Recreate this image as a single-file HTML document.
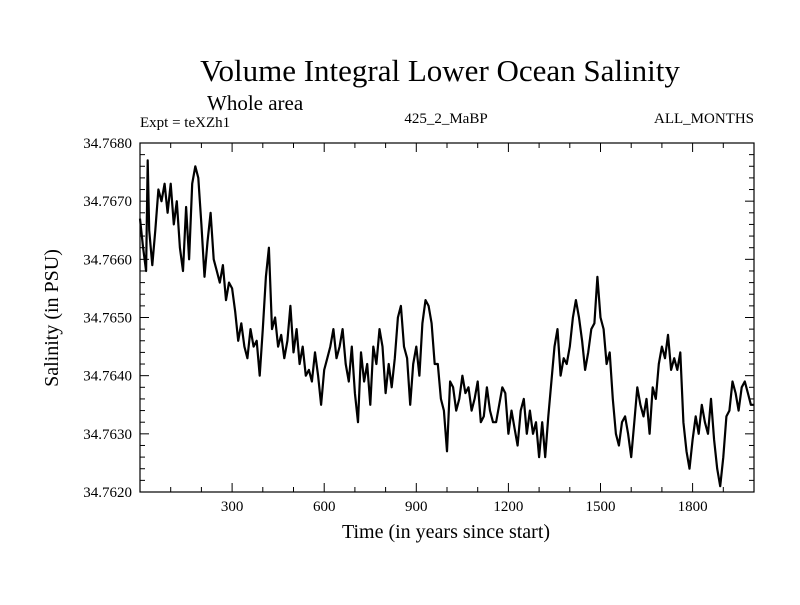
<!DOCTYPE html>
<html><head><meta charset="utf-8"><style>
body{margin:0;background:#fff}
svg text{font-family:"Liberation Serif",serif;fill:#000}
</style></head><body>
<svg id="c" width="800" height="600">
<text x="440" y="81" font-size="31" text-anchor="middle">Volume Integral Lower Ocean Salinity</text>
<text x="207" y="110" font-size="21">Whole area</text>
<text x="140" y="127" font-size="15">Expt = teXZh1</text>
<text x="446" y="123" font-size="15" text-anchor="middle">425_2_MaBP</text>
<text x="754" y="123" font-size="15" text-anchor="end">ALL_MONTHS</text>
<text x="446" y="538" font-size="20" text-anchor="middle">Time (in years since start)</text>
<text transform="translate(58,318) rotate(-90)" font-size="20" text-anchor="middle">Salinity (in PSU)</text>
<g id="ax"></g>
<rect x="140" y="143" width="614" height="349" fill="none" stroke="#000" stroke-width="1.2"/>
</svg>
<script>
const years=[0,10,20,25,30,40,50,60,70,80,90,100,110,120,130,140,150,160,170,180,190,200,210,220,230,240,250,260,270,280,290,300,310,320,330,340,350,360,370,380,390,400,410,420,430,440,450,460,470,480,490,500,510,520,530,540,550,560,570,580,590,600,610,620,630,640,650,660,670,680,690,700,710,720,730,740,750,760,770,780,790,800,810,820,830,840,850,860,870,880,890,900,910,920,930,940,950,960,970,980,990,1000,1010,1020,1030,1040,1050,1060,1070,1080,1090,1100,1110,1120,1130,1140,1150,1160,1170,1180,1190,1200,1210,1220,1230,1240,1250,1260,1270,1280,1290,1300,1310,1320,1330,1340,1350,1360,1370,1380,1390,1400,1410,1420,1430,1440,1450,1460,1470,1480,1490,1500,1510,1520,1530,1540,1550,1560,1570,1580,1590,1600,1610,1620,1630,1640,1650,1660,1670,1680,1690,1700,1710,1720,1730,1740,1750,1760,1770,1780,1790,1800,1810,1820,1830,1840,1850,1860,1870,1880,1890,1900,1910,1920,1930,1940,1950,1960,1970,1980,1990,2000];
const sal=[66.7,66.2,65.8,67.7,66.5,65.9,66.5,67.2,67.0,67.3,66.8,67.3,66.6,67.0,66.2,65.8,66.9,66.0,67.3,67.6,67.4,66.6,65.7,66.3,66.8,66.0,65.8,65.6,65.9,65.3,65.6,65.5,65.1,64.6,64.9,64.5,64.3,64.8,64.5,64.6,64.0,64.8,65.7,66.2,64.8,65.0,64.5,64.7,64.3,64.6,65.2,64.4,64.8,64.2,64.5,64.0,64.1,63.9,64.4,64.0,63.5,64.1,64.3,64.5,64.8,64.3,64.5,64.8,64.2,63.9,64.5,63.7,63.2,64.4,63.9,64.2,63.5,64.5,64.2,64.8,64.5,63.7,64.2,63.8,64.3,65.0,65.2,64.5,64.3,63.5,64.2,64.5,64.0,64.9,65.3,65.2,64.9,64.2,64.2,63.6,63.4,62.7,63.9,63.8,63.4,63.6,64.0,63.7,63.8,63.4,63.6,63.9,63.2,63.3,63.8,63.4,63.2,63.2,63.5,63.8,63.7,63.0,63.4,63.1,62.8,63.4,63.6,63.0,63.4,63.0,63.2,62.6,63.2,62.6,63.3,63.9,64.5,64.8,64.0,64.3,64.2,64.5,65.0,65.3,65.0,64.6,64.1,64.4,64.8,64.9,65.7,65.0,64.8,64.2,64.4,63.6,63.0,62.8,63.2,63.3,63.0,62.6,63.2,63.8,63.5,63.3,63.6,63.0,63.8,63.6,64.2,64.5,64.3,64.7,64.1,64.3,64.1,64.4,63.2,62.7,62.4,62.9,63.3,63.0,63.5,63.2,63.0,63.6,62.9,62.4,62.1,62.6,63.3,63.4,63.9,63.7,63.4,63.8,63.9,63.7,63.5,63.5];
const xTicks=[300,600,900,1200,1500,1800];
const yTicks=[62,63,64,65,66,67,68];
const NS='http://www.w3.org/2000/svg';
const X0=140,X1=754,Y0=492,Y1=143;
function xs(t){return X0+(t-0)/(2000-0)*(X1-X0);}
function ys(v){return Y0-(v-62)/(68-62)*(Y0-Y1);}
const ax=document.getElementById('ax');
function ln(x1,y1,x2,y2,w){const l=document.createElementNS(NS,'line');l.setAttribute('x1',x1);l.setAttribute('y1',y1);l.setAttribute('x2',x2);l.setAttribute('y2',y2);l.setAttribute('stroke','#000');l.setAttribute('stroke-width',w||1);ax.appendChild(l);return l;}
for(let t=100;t<2000;t+=100){const big=t%300===0;const L=big?9:5;
 const a=ln(xs(t),Y0,xs(t),Y0-L);
 const b=ln(xs(t),Y1,xs(t),Y1+L);}
for(let k=0;k<=30;k++){const v=62+k*0.2;const big=k%5===0;const L=big?9:5;
 const a=ln(X0,ys(v),X0+L,ys(v));
 const b=ln(X1,ys(v),X1-L,ys(v));}
xTicks.forEach(t=>{const e=document.createElementNS(NS,'text');e.setAttribute('x',xs(t));e.setAttribute('y',511);e.setAttribute('font-size','15');e.setAttribute('text-anchor','middle');e.textContent=t;


ax.appendChild(e);});
yTicks.forEach(v=>{const e=document.createElementNS(NS,'text');e.setAttribute('x',132);e.setAttribute('y',ys(v)+5);e.setAttribute('font-size','15');e.setAttribute('text-anchor','end');e.textContent=(34.76+(v-60)*0.001).toFixed(4);


ax.appendChild(e);});
const p=document.createElementNS(NS,'polyline');
p.setAttribute('points',years.map((t,i)=>xs(t).toFixed(1)+','+ys(sal[i]).toFixed(1)).join(' '));
p.setAttribute('fill','none');p.setAttribute('stroke','#000');p.setAttribute('stroke-width','2.2');p.setAttribute('stroke-linejoin','round');


ax.appendChild(p);
</script>
</body></html>
